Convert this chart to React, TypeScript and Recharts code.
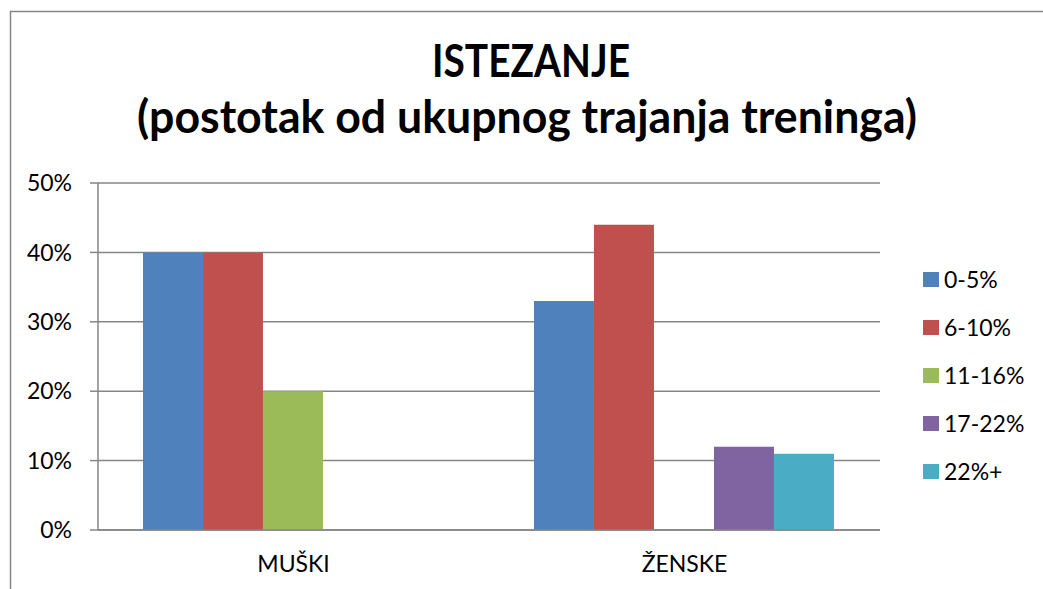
import React from 'react';
import { BarChart, Bar, XAxis, YAxis, CartesianGrid } from 'recharts';

const categories = ['MUŠKI', 'ŽENSKE'];
const seriesNames = ['0-5%', '6-10%', '11-16%', '17-22%', '22%+'];
const s0to5 = [40, 33];
const s6to10 = [40, 44];
const s11to16 = [20, 0];
const s17to22 = [0, 12];
const s22plus = [0, 11];
const yTicks = [0, 10, 20, 30, 40, 50];
const titleLine1 = 'ISTEZANJE';
const titleLine2 = '(postotak od ukupnog trajanja treninga)';

const colors = ['#4F81BD', '#C0504D', '#9BBB59', '#8064A2', '#4BACC6'];
const seriesValues = [s0to5, s6to10, s11to16, s17to22, s22plus];
const keys = ['k0', 'k1', 'k2', 'k3', 'k4'];

const data = categories.map((c, i) => {
  const row: Record<string, string | number> = { name: c };
  keys.forEach((k, j) => {
    row[k] = seriesValues[j][i];
  });
  return row;
});

const FONT = 'Lato, "Open Sans", sans-serif';
const GRID = '#868686';

export default function App() {
  return (
    <div style={{ position: 'absolute', left: 0, top: 0, width: 1043, height: 589, background: '#fff', overflow: 'hidden' }}>
      <BarChart
        width={1043}
        height={589}
        data={data}
        margin={{ top: 183, right: 163, bottom: 29, left: 0 }}
        barCategoryGap="11.5%"
        barGap={0}
      >
        <CartesianGrid horizontal vertical={false} stroke={GRID} strokeWidth={1.5} />
        <XAxis
          dataKey="name"
          height={30}
          tickLine={false}
          tickSize={0}
          tickMargin={26}
          axisLine={{ stroke: GRID, strokeWidth: 1.5 }}
          tick={{ fill: '#000', fontSize: 23, fontFamily: FONT }}
        />
        <YAxis
          width={98}
          domain={[0, 50]}
          ticks={yTicks}
          interval={0}
          tickFormatter={(v: number) => `${v}%`}
          tickSize={8}
          tickMargin={18}
          tickLine={{ stroke: GRID, strokeWidth: 1.5 }}
          axisLine={{ stroke: GRID, strokeWidth: 1.5 }}
          tick={{ fill: '#000', fontSize: 23, fontFamily: FONT }}
        />
        {keys.map((k, j) => (
          <Bar key={k} dataKey={k} name={seriesNames[j]} fill={colors[j]} isAnimationActive={false} />
        ))}
      </BarChart>
      <div
        style={{
          position: 'absolute',
          left: 923,
          top: 255,
          width: 115,
          fontFamily: FONT,
          fontSize: 23,
          color: '#000',
        }}
      >
        {seriesNames.map((n, j) => (
          <div key={n} style={{ height: 48.2, display: 'flex', alignItems: 'center' }}>
            <span style={{ display: 'inline-block', width: 16, height: 15, background: colors[j], marginRight: 5 }} />
            <span style={{ lineHeight: '23px' }}>{n}</span>
          </div>
        ))}
      </div>
      <svg
        width={1043}
        height={589}
        style={{ position: 'absolute', left: 0, top: 0, pointerEvents: 'none' }}
      >
        <path d="M10.5 589 L10.5 11.5 L1043 11.5" fill="none" stroke={GRID} strokeWidth={1.5} />
        <text
          x={531}
          y={77}
          textAnchor="middle"
          fontFamily={FONT}
          fontWeight={700}
          fontSize={45}
          textLength={198}
          lengthAdjust="spacingAndGlyphs"
          fill="#000"
        >
          {titleLine1}
        </text>
        <text
          x={527}
          y={133}
          textAnchor="middle"
          fontFamily={FONT}
          fontWeight={700}
          fontSize={45}
          textLength={780}
          lengthAdjust="spacingAndGlyphs"
          fill="#000"
        >
          {titleLine2}
        </text>
      </svg>
    </div>
  );
}
